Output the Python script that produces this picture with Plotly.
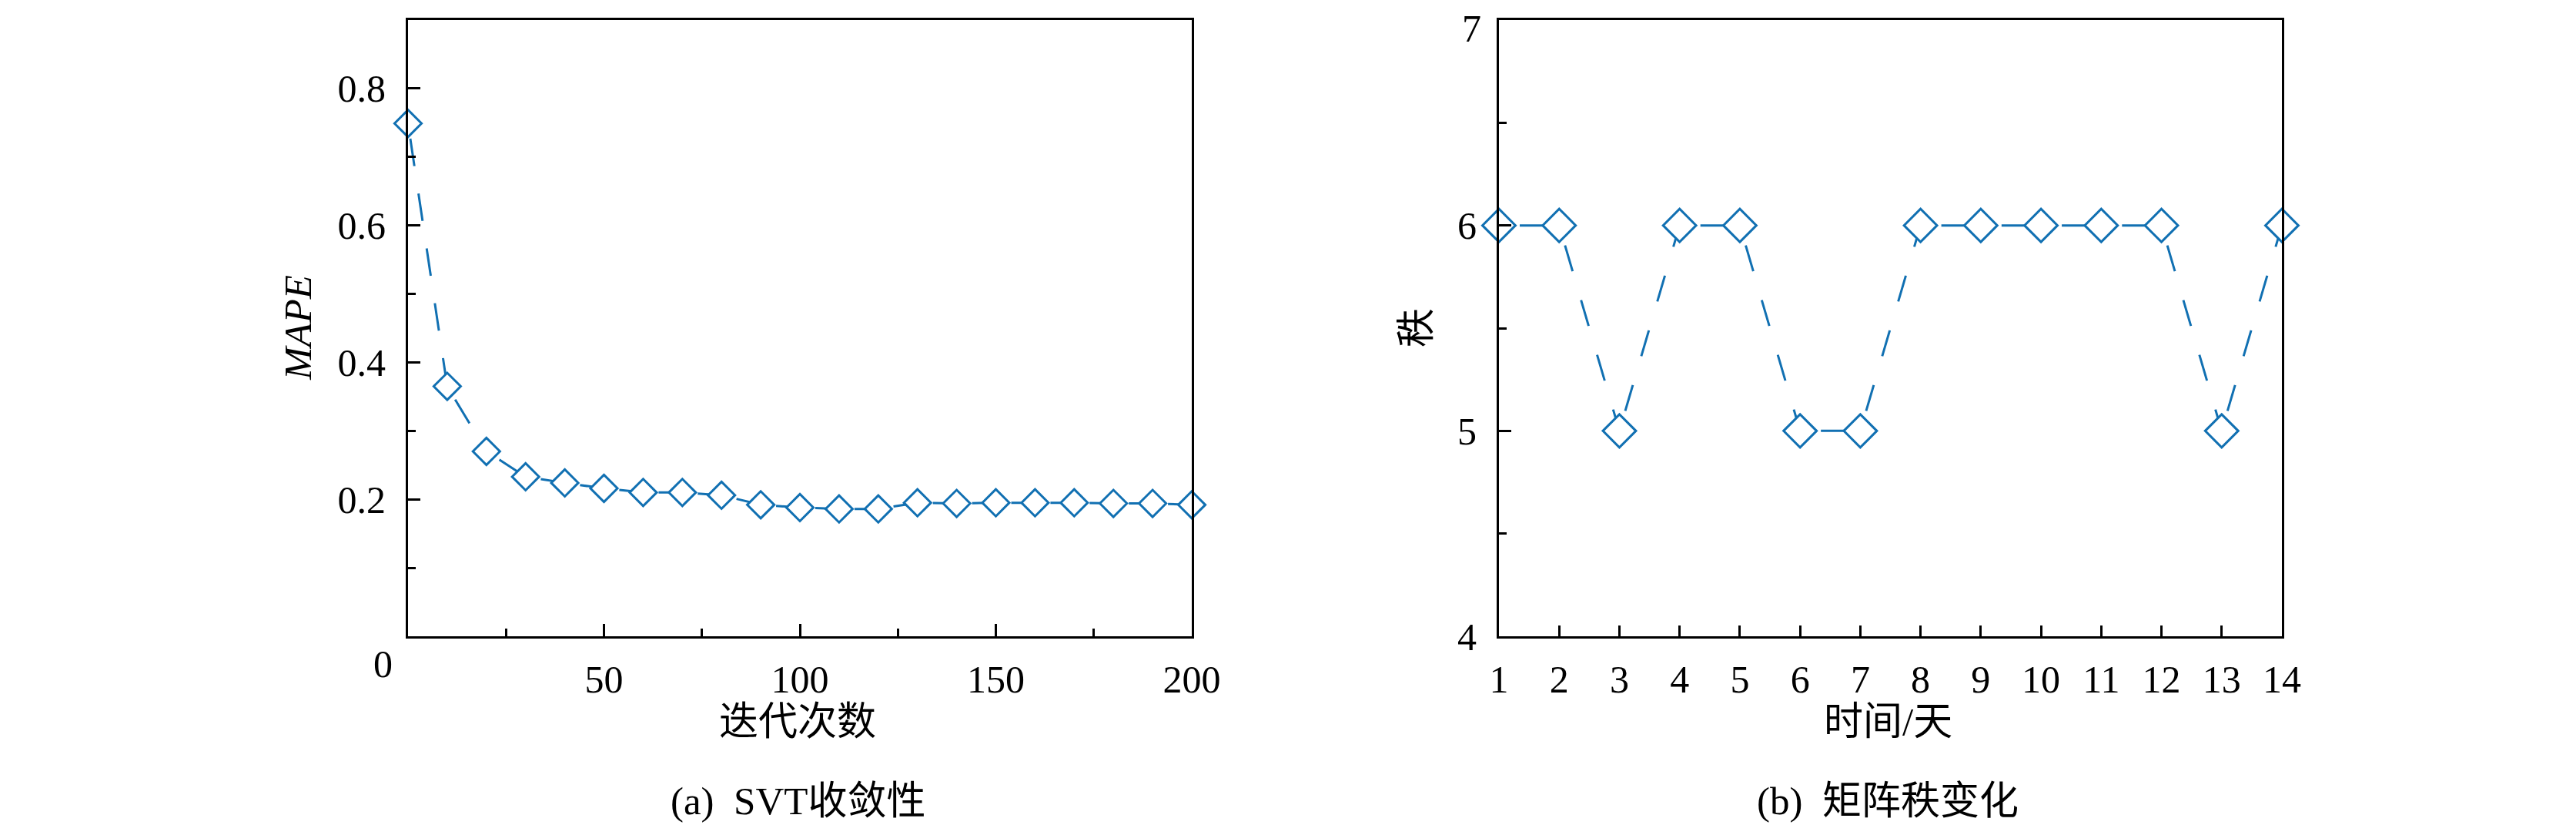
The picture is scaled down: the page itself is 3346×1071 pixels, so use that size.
import plotly.graph_objects as go

# ---- data ----
iter_x = [0, 10, 20, 30, 40, 50, 60, 70, 80, 90, 100, 110, 120, 130, 140, 150, 160, 170, 180, 190, 200]
mape_y = [0.749, 0.365, 0.270, 0.233, 0.224, 0.216, 0.210, 0.210, 0.206, 0.192, 0.188, 0.186, 0.186,
          0.195, 0.194, 0.195, 0.195, 0.195, 0.194, 0.194, 0.192]
day_x = list(range(1, 15))
rank_y = [6, 6, 5, 6, 6, 5, 5, 6, 6, 6, 6, 6, 5, 6]

left_xticks = [0, 50, 100, 150, 200]
left_xticktext = ["", "50", "100", "150", "200"]
left_yticks = [0.2, 0.4, 0.6, 0.8]
right_yticks = [4, 5, 6, 7]
right_yticktext = ["4", "5", "6", ""]   # the top "7" is drawn as an annotation so it stays inside the page

BLUE = "#1170B2"
FONT = "Liberation Serif, Times New Roman, Noto Sans CJK SC"
W, H = 3346, 1071
OFF = 8  # default page body margin in the browser

def px_x(p):
    return (p - OFF) / W

def px_y(p):
    return 1 - (p - OFF) / H

fig = go.Figure()

def add_series(xs, ys, xa, ya, dash, msize):
    # dashed connecting segments (pattern restarts at every point, as in the reference)
    for i in range(len(xs) - 1):
        fig.add_trace(go.Scatter(
            x=[xs[i], xs[i + 1]], y=[ys[i], ys[i + 1]], mode="lines", xaxis=xa, yaxis=ya,
            line=dict(color=BLUE, width=3, dash=dash), cliponaxis=False,
            showlegend=False, hoverinfo="skip"))
    fig.add_trace(go.Scatter(
        x=xs, y=ys, mode="markers", xaxis=xa, yaxis=ya,
        marker=dict(symbol="diamond", size=msize, color="white", line=dict(color=BLUE, width=3)),
        cliponaxis=False, showlegend=False))

add_series(iter_x, mape_y, "x", "y", "0px,20px,36px,16px", 27)
add_series(day_x, rank_y, "x2", "y2", "0px,27px,35px,12px", 33)

ydom = [px_y(826), px_y(26)]
axis_common = dict(showline=True, linecolor="black", linewidth=3, mirror=True, showgrid=False,
                   zeroline=False, ticks="inside", tickcolor="black", tickwidth=2.5,
                   automargin=False, ticklabeloverflow="allow",
                   tickfont=dict(family=FONT, size=50, color="black"))

fig.update_layout(
    width=W, height=H, margin=dict(l=0, r=0, t=0, b=0, autoexpand=False),
    paper_bgcolor="white", plot_bgcolor="white",
    font=dict(family=FONT, color="black"),
    xaxis=dict(domain=[px_x(530), px_x(1548)], range=[0, 200], anchor="y",
               tickmode="array", tickvals=left_xticks, ticktext=left_xticktext, ticklen=16,
               ticklabelstandoff=10,
               minor=dict(ticks="inside", tickvals=[25, 75, 125, 175], ticklen=10,
                          tickcolor="black", tickwidth=2.5),
               **axis_common),
    yaxis=dict(domain=ydom, range=[0, 0.9], anchor="x",
               tickmode="array", tickvals=left_yticks, ticktext=[f"{v:.1f}" for v in left_yticks],
               ticklen=16, ticklabelstandoff=16,
               minor=dict(ticks="inside", tickvals=[0.1, 0.3, 0.5, 0.7], ticklen=10,
                          tickcolor="black", tickwidth=2.5),
               **axis_common),
    xaxis2=dict(domain=[px_x(1947), px_x(2964)], range=[1, 14], anchor="y2",
                tickmode="array", tickvals=day_x, ticktext=[str(v) for v in day_x], ticklen=14,
                ticklabelstandoff=10,
                **axis_common),
    yaxis2=dict(domain=ydom, range=[4, 7], anchor="x2",
                tickmode="array", tickvals=right_yticks, ticktext=right_yticktext,
                ticklen=16, ticklabelstandoff=16,
                minor=dict(ticks="inside", tickvals=[4.5, 5.5, 6.5], ticklen=10,
                           tickcolor="black", tickwidth=2.5),
                **axis_common),
)

ann_font = dict(family=FONT, size=51, color="black")
tick_font = dict(family=FONT, size=50, color="black")
annotations = [
    # lone "0" label of the left x-axis (drawn offset to the left in the reference)
    dict(text="0", x=0, xref="x", y=px_y(862), yref="paper", xshift=-33,
         showarrow=False, font=tick_font, xanchor="center", yanchor="middle"),
    # top "7" label of the right y-axis
    dict(text=str(right_yticks[-1]), x=1, xref="x2", y=1, yref="paper", xshift=-22,
         showarrow=False, font=tick_font, xanchor="right", yanchor="top", borderpad=0),
    dict(text="迭代次数", x=px_x(1036), y=px_y(937), xref="paper", yref="paper",
         showarrow=False, font=ann_font, xanchor="center", yanchor="middle"),
    dict(text="(a)\u2002SVT收敛性", x=px_x(1036), y=px_y(1040), xref="paper", yref="paper",
         showarrow=False, font=ann_font, xanchor="center", yanchor="middle"),
    dict(text="<i>MAPE</i>", x=px_x(387), y=px_y(426), xref="paper", yref="paper",
         showarrow=False, font=ann_font, textangle=-90, xanchor="center", yanchor="middle"),
    dict(text="时间/天", x=px_x(2452), y=px_y(937), xref="paper", yref="paper",
         showarrow=False, font=ann_font, xanchor="center", yanchor="middle"),
    dict(text="(b)\u2002矩阵秩变化", x=px_x(2452), y=px_y(1040), xref="paper", yref="paper",
         showarrow=False, font=ann_font, xanchor="center", yanchor="middle"),
    dict(text="秩", x=px_x(1840), y=px_y(426), xref="paper", yref="paper",
         showarrow=False, font=ann_font, textangle=-90, xanchor="center", yanchor="middle"),
]
fig.update_layout(annotations=annotations)

fig.write_html("out.html")
